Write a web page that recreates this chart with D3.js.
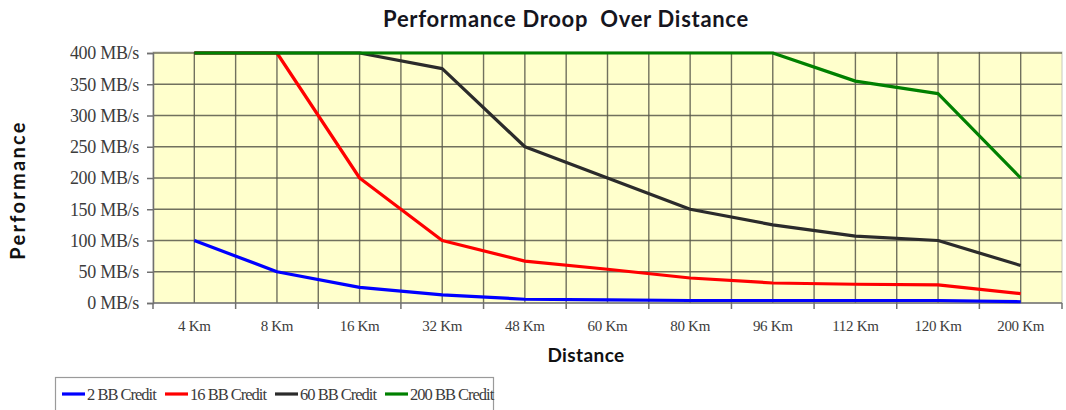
<!DOCTYPE html>
<html>
<head>
<meta charset="utf-8">
<script src="https://cdn.jsdelivr.net/npm/d3@7"></script>
<style>
  html, body { margin: 0; padding: 0; background: #ffffff; }
  svg { display: block; }
</style>
</head>
<body>
<svg id="chart" width="1066" height="410"></svg>
<script>
// Distance categories along the x axis
const distances = ["4 Km", "8 Km", "16 Km", "32 Km", "48 Km", "60 Km", "80 Km", "96 Km", "112 Km", "120 Km", "200 Km"];

// Throughput (MB/s) per buffer-to-buffer credit setting
const credit2   = [100, 50, 25, 13, 6, 5, 4, 4, 4, 4, 2];
const credit16  = [400, 400, 200, 100, 67, 54, 40, 32, 30, 29, 15];
const credit60  = [400, 400, 400, 375, 250, 200, 150, 125, 107, 100, 60];
const credit200 = [400, 400, 400, 400, 400, 400, 400, 400, 355, 335, 200];

const seriesNames = ["2 BB Credit", "16 BB Credit", "60 BB Credit", "200 BB Credit"];
const seriesValues = [credit2, credit16, credit60, credit200];
const seriesColors = ["#0000ff", "#ff0000", "#2b2b2b", "#008000"];

const yTicks = [0, 50, 100, 150, 200, 250, 300, 350, 400];

const svg = d3.select("#chart");

const plot = { left: 153, right: 1062, top: 53, bottom: 303 };

const x = d3.scaleBand().domain(distances).range([plot.left, plot.right]).padding(0);
const y = d3.scaleLinear().domain([0, 400]).range([plot.bottom, plot.top]);
const cx = d => x(d) + x.bandwidth() / 2;

const serif = "'Liberation Serif', 'Times New Roman', serif";
const sans = "Lato, 'Open Sans', sans-serif";

// Plot background
svg.append("rect")
  .attr("x", plot.left).attr("y", plot.top - 1)
  .attr("width", plot.right - plot.left).attr("height", plot.bottom - plot.top + 1)
  .attr("fill", "#ffffcc")
  .attr("stroke", "#c8c8c0").attr("stroke-width", 1);

// Grid: vertical lines at band edges and band centres, horizontal at each tick
const grid = svg.append("g").attr("stroke", "#58584a").attr("stroke-width", 1.4).attr("stroke-opacity", 0.85);
const edges = distances.map(d => x(d)).concat([plot.right]);
const centres = distances.map(cx);
edges.slice(1, -1).concat(centres).forEach(px => {
  grid.append("line").attr("x1", px).attr("x2", px).attr("y1", plot.top - 1).attr("y2", plot.bottom);
});
yTicks.slice(1).forEach(v => {
  grid.append("line").attr("x1", plot.left).attr("x2", plot.right).attr("y1", y(v)).attr("y2", y(v));
});

// Y axis
const yAxis = d3.axisLeft(y).tickValues(yTicks).tickSize(6).tickPadding(8)
  .tickFormat(d => d + " MB/s");
const gy = svg.append("g").attr("transform", `translate(${plot.left},0)`).call(yAxis);
gy.select(".domain").attr("stroke", "#707070").attr("stroke-width", 1.5);
gy.selectAll(".tick line").attr("stroke", "#707070").attr("stroke-width", 1.5);
gy.selectAll("text")
  .attr("font-family", serif)
  .attr("font-size", "18px").attr("letter-spacing", "-0.3px").attr("fill", "#3c3c3c");

// X axis: ticks on band edges, labels under band centres
const gx = svg.append("g").attr("transform", `translate(0,${plot.bottom})`);
gx.append("line").attr("x1", plot.left).attr("x2", plot.right).attr("y1", 0).attr("y2", 0)
  .attr("stroke", "#707070").attr("stroke-width", 1.5);
edges.forEach(px => {
  gx.append("line").attr("x1", px).attr("x2", px).attr("y1", 0).attr("y2", 6)
    .attr("stroke", "#707070").attr("stroke-width", 1.5);
});
gx.selectAll("text.xlab").data(distances).join("text")
  .attr("class", "xlab")
  .attr("x", d => cx(d)).attr("y", 28)
  .attr("text-anchor", "middle")
  .attr("font-family", serif)
  .attr("font-size", "15px").attr("letter-spacing", "-0.3px").attr("fill", "#3c3c3c")
  .text(d => d);

// Series lines
const line = d3.line().x((v, i) => cx(distances[i])).y(v => y(v));
seriesValues.forEach((vals, i) => {
  svg.append("path")
    .attr("d", line(vals))
    .attr("fill", "none")
    .attr("stroke", seriesColors[i])
    .attr("stroke-width", 3.2)
    .attr("stroke-linejoin", "round")
    .attr("stroke-linecap", "butt");
});

// Titles
svg.append("text")
  .attr("x", 566).attr("y", 27)
  .attr("text-anchor", "middle")
  .attr("font-family", sans)
  .attr("font-weight", "bold").attr("font-size", "22px").attr("letter-spacing", "0.7px")
  .attr("fill", "#151520")
  .style("white-space", "pre")
  .text("Performance Droop  Over Distance");

svg.append("text")
  .attr("transform", "translate(25,190) rotate(-90)")
  .attr("text-anchor", "middle")
  .attr("font-family", sans)
  .attr("font-weight", "bold").attr("font-size", "20px").attr("letter-spacing", "2.3px")
  .attr("fill", "#111")
  .text("Performance");

svg.append("text")
  .attr("x", 586).attr("y", 362)
  .attr("text-anchor", "middle")
  .attr("font-family", sans)
  .attr("font-weight", "bold").attr("font-size", "19px").attr("letter-spacing", "0.4px")
  .attr("fill", "#111")
  .text("Distance");

// Legend
const legend = svg.append("g");
legend.append("rect")
  .attr("x", 55.5).attr("y", 377.5).attr("width", 438).attr("height", 40)
  .attr("fill", "#ffffff").attr("stroke", "#9a9a9a").attr("stroke-width", 1.2);
const legendX = [62, 165, 275, 385];
seriesNames.forEach((name, i) => {
  legend.append("line")
    .attr("x1", legendX[i]).attr("x2", legendX[i] + 23)
    .attr("y1", 394).attr("y2", 394)
    .attr("stroke", seriesColors[i]).attr("stroke-width", 3.2);
  legend.append("text")
    .attr("x", legendX[i] + 25).attr("y", 400)
    .attr("font-family", serif)
    .attr("font-size", "16.5px").attr("letter-spacing", "-1px").attr("fill", "#3c3c3c")
    .text(name);
});
</script>
</body>
</html>
